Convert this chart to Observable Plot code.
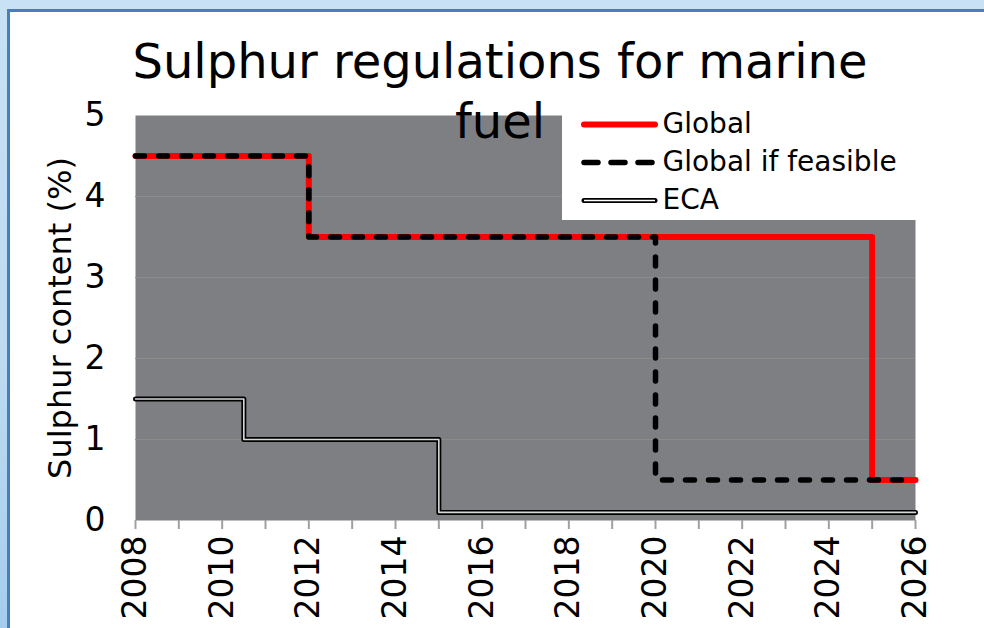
<!DOCTYPE html>
<html><head><meta charset="utf-8">
<script src="https://cdn.jsdelivr.net/npm/d3@7"></script>
<script src="https://cdn.jsdelivr.net/npm/@observablehq/plot@0.6"></script>
<style>
body{margin:0;width:984px;height:628px;overflow:hidden;position:relative;
 background:linear-gradient(180deg,#c8e1f5 0%,#bcdaf2 60%,#a6cdee 100%);font-family:"DejaVu Sans",sans-serif;}
#panel{position:absolute;left:7px;top:9px;width:990px;height:640px;background:#fff;border-left:3px solid #4a7ebb;border-top:3px solid #4a7ebb;}
#chart{position:absolute;left:0;top:0;}
#title{position:absolute;left:100px;width:800px;top:31px;text-align:center;font-family:"DejaVu Sans",sans-serif;font-size:48px;line-height:60px;color:#000;white-space:nowrap;}
#legend{position:absolute;left:562px;top:101px;width:360px;height:119px;background:#fff;}
</style></head>
<body>
<div id="panel"></div>
<div id="chart"></div>
<div id="legend"></div>
<div id="title">Sulphur regulations for marine<br>fuel</div>
<script>
const yearsGlobal = [2008, 2012, 2025, 2026];
const valuesGlobal = [4.5, 3.5, 0.5, 0.5];
const yearsFeasible = [2008, 2012, 2020, 2026];
const valuesFeasible = [4.5, 3.5, 0.5, 0.5];
const yearsECA = [2008, 2010.5, 2015, 2026];
const valuesECA = [1.5, 1.0, 0.1, 0.1];
const seriesNames = ["Global", "Global if feasible", "ECA"];
const xTicks = d3.range(2008, 2027, 1);
const yTicks = [0, 1, 2, 3, 4, 5];

const toRows = (xs, vs) => xs.map((x, i) => ({x, y: vs[i]}));
const globalRows = toRows(yearsGlobal, valuesGlobal);
const feasibleRows = toRows(yearsFeasible, valuesFeasible);
const ecaRows = toRows(yearsECA, valuesECA);

const chart = Plot.plot({
  width: 984, height: 628,
  marginLeft: 135, marginRight: 69, marginTop: 115, marginBottom: 108,
  style: {fontFamily: "DejaVu Sans", fontSize: "34px", background: "transparent", color: "#000", overflow: "visible"},
  x: {domain: [2008, 2026]},
  y: {domain: [0, 5]},
  marks: [
    Plot.frame({fill: "#7e7f83", stroke: "none"}),
    Plot.gridY([1,2,3,4], {stroke: "#8b8c88", strokeOpacity: 1, strokeWidth: 1.2}),
    Plot.axisY(yTicks, {tickSize: 0, tickPadding: 30, label: null, fill: "#000", fontSize: 33, tickFormat: d => String(d)}),
    Plot.text(["Sulphur content (%)"], {frameAnchor: "left", textAnchor: "middle", dx: -75, rotate: -90, fontSize: 32, fill: "#000"}),
    Plot.axisX(xTicks, {tickSize: 9, stroke: "#a0a0a0", strokeWidth: 2, tickPadding: 6, tickRotate: -90,
      tickFormat: d => d % 2 === 0 ? String(d) : "", label: null, fill: "#000", fontSize: 33}),
    Plot.line(globalRows, {x: "x", y: "y", curve: "step-after", stroke: "#ff0000", strokeWidth: 6, strokeLinecap: "round", strokeLinejoin: "round"}),
    Plot.line(feasibleRows, {x: "x", y: "y", curve: "step-after", stroke: "#000", strokeWidth: 5.5, strokeDasharray: "9,14", strokeLinecap: "round", strokeLinejoin: "round"}),
    Plot.line(ecaRows, {x: "x", y: "y", curve: "step-after", stroke: "#000", strokeWidth: 5, strokeLinecap: "round"}),
    Plot.line(ecaRows, {x: "x", y: "y", curve: "step-after", stroke: "#d8d8d8", strokeWidth: 1.6})
  ]
});
document.getElementById("chart").appendChild(chart);

const legendRows = seriesNames.map((name, i) => ({name, i}));
const legend = Plot.plot({
  width: 360, height: 119, margin: 0,
  style: {fontFamily: "DejaVu Sans", fontSize: "28px", background: "transparent", color: "#000"},
  x: {domain: [0, 360], axis: null},
  y: {domain: [0, 119], axis: null, reverse: true},
  marks: [
    Plot.ruleY([legendRows[0]], {x1: 22, x2: 93, y: 23, stroke: "#ff0000", strokeWidth: 6, strokeLinecap: "round"}),
    Plot.ruleY([legendRows[1]], {x1: 22, x2: 90, y: 61, stroke: "#000", strokeWidth: 5.5, strokeDasharray: "14,13", strokeLinecap: "round"}),
    Plot.ruleY([legendRows[2]], {x1: 22, x2: 93, y: 99, stroke: "#000", strokeWidth: 5, strokeLinecap: "round"}),
    Plot.ruleY([legendRows[2]], {x1: 22, x2: 93, y: 99, stroke: "#fff", strokeWidth: 1.6}),
    Plot.text(legendRows, {x: 100, y: d => 23 + d.i * 38, text: "name", textAnchor: "start", fontSize: 28, fill: "#000"})
  ]
});
document.getElementById("legend").appendChild(legend);
</script>
</body></html>
